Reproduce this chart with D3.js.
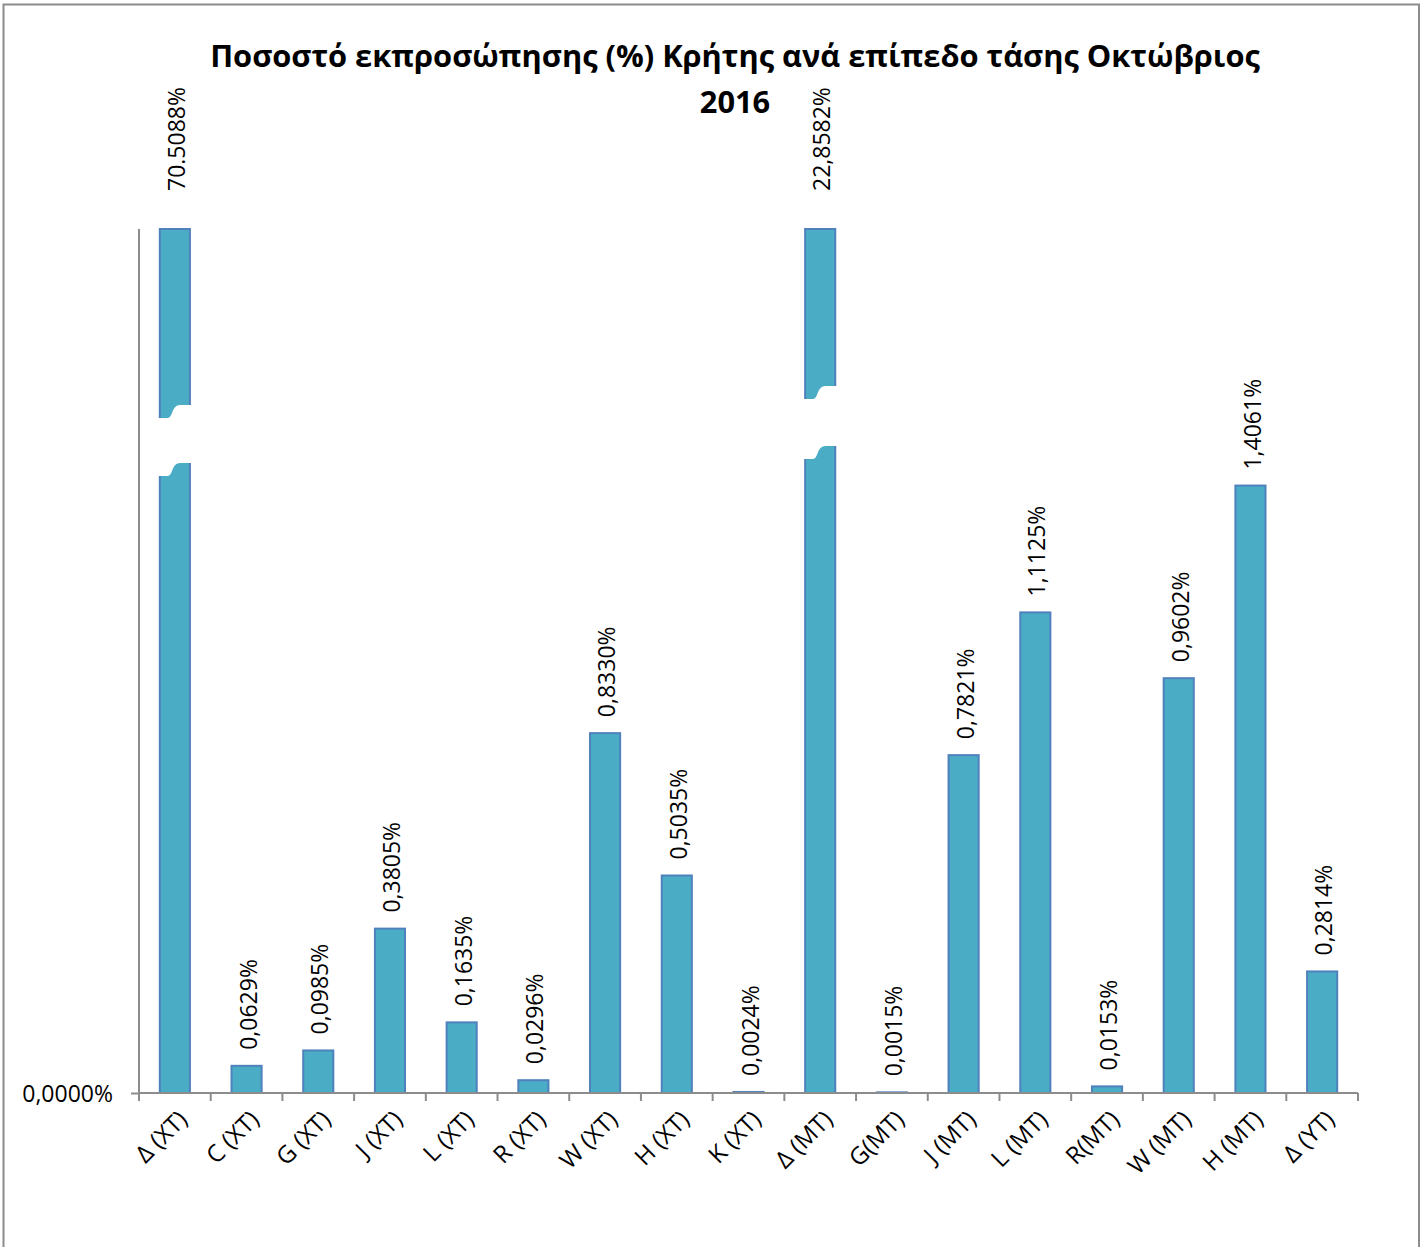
<!DOCTYPE html>
<html>
<head>
<meta charset="utf-8">
<script src="https://cdn.jsdelivr.net/npm/d3@7"></script>
<style>
  html, body { margin: 0; padding: 0; background: #fff; }
  svg text { font-family: "Open Sans", "Noto Sans", sans-serif; fill: #000; }
</style>
</head>
<body>
<svg id="chart" width="1427" height="1247"></svg>
<script>
// ---- data ----
const categories = ["Δ (XT)", "C (XT)", "G (XT)", "J (XT)", "L (XT)", "R (XT)", "W (XT)", "H (XT)", "K (XT)",
  "Δ (MT)", "G(MT)", "J (MT)", "L (MT)", "R(MT)", "W (MT)", "H (MT)", "Δ (YT)"];
const values = [70.5088, 0.0629, 0.0985, 0.3805, 0.1635, 0.0296, 0.8330, 0.5035, 0.0024,
  22.8582, 0.0015, 0.7821, 1.1125, 0.0153, 0.9602, 1.4061, 0.2814];
const valueLabels = ["70.5088%", "0,0629%", "0,0985%", "0,3805%", "0,1635%", "0,0296%", "0,8330%", "0,5035%", "0,0024%",
  "22,8582%", "0,0015%", "0,7821%", "1,1125%", "0,0153%", "0,9602%", "1,4061%", "0,2814%"];
const yTickValues = [0];
const yTickLabels = ["0,0000%"];
const yMax = 2.0;
const titleLines = ["Ποσοστό εκπροσώπησης (%) Κρήτης ανά επίπεδο τάσης Οκτώβριος", "2016"];

// ---- layout ----
const svg = d3.select("#chart");
const W = 1427, H = 1247;
const plot = { left: 139, right: 1358, top: 229, bottom: 1093 };

// outer frame
svg.append("rect").attr("x", 3.5).attr("y", 4.5).attr("width", 1415.5).attr("height", H + 10)
  .attr("fill", "#fff").attr("stroke", "#8c8c8c").attr("stroke-width", 2);

const x = d3.scaleBand().domain(categories).range([plot.left, plot.right]).paddingInner(0.58).paddingOuter(0.29);
const y = d3.scaleLinear().domain([0, yMax]).range([plot.bottom, plot.top]);

// title
const title = svg.append("g");
const t1 = title.append("text").attr("x", 735).attr("y", 67).attr("text-anchor", "middle")
  .style("font-weight", "bold").style("font-size", "30px").text(titleLines[0]);
const w1 = t1.node().getComputedTextLength();
const fs = 30 * 1050 / w1;
t1.style("font-size", fs + "px");
title.append("text").attr("x", 735).attr("y", 113).attr("text-anchor", "middle")
  .style("font-weight", "bold").style("font-size", fs + "px").text(titleLines[1]);

// bars
const clipped = v => Math.min(v, yMax);
svg.append("g").selectAll("rect").data(values).join("rect")
  .attr("x", (d, i) => x(categories[i]))
  .attr("width", x.bandwidth())
  .attr("y", d => y(clipped(d)))
  .attr("height", d => y(0) - y(clipped(d)))
  .attr("fill", "#4BACC6")
  .attr("stroke", "#4F81BD")
  .attr("stroke-width", 2);

// axis break marks on clipped bars (white S-shaped gaps)
const breaks = { 0: { topR: 405, gap: 58, drop: 13 }, 9: { topR: 386, gap: 60, drop: 13 } };
Object.keys(breaks).forEach(k => {
  const i = +k, b = breaks[k];
  const x0 = x(categories[i]) - 3, x1 = x(categories[i]) + x.bandwidth() + 3, w = x1 - x0;
  const yr = b.topR, yl = b.topR + b.drop;
  const d = `M${x0},${yl} L${x0 + w * 0.3},${yl} C${x0 + w * 0.45},${yl} ${x0 + w * 0.4},${yr} ${x0 + w * 0.65},${yr} L${x1},${yr}`
    + ` L${x1},${yr + b.gap} L${x0 + w * 0.65},${yr + b.gap} C${x0 + w * 0.4},${yr + b.gap} ${x0 + w * 0.45},${yl + b.gap} ${x0 + w * 0.3},${yl + b.gap} L${x0},${yl + b.gap} Z`;
  svg.append("path").attr("d", d).attr("fill", "#fff");
});

// axes
const axisColor = "#8c8c8c";
const yAxis = svg.append("g").attr("transform", `translate(${plot.left},0)`)
  .call(d3.axisLeft(y).tickValues(yTickValues).tickFormat((d, i) => yTickLabels[i]).tickSize(8).tickPadding(18));
yAxis.select(".domain").attr("d", `M0,${plot.top}V${plot.bottom}`);
yAxis.selectAll("path, line").attr("stroke", axisColor).attr("stroke-width", 2);
yAxis.selectAll("text").style("font-size", "23px").style("font-family", "'Open Sans', sans-serif").attr("fill", "#000").attr("dy", "0.35em");

const xAxis = svg.append("g").attr("transform", `translate(0,${plot.bottom})`)
  .call(d3.axisBottom(x).tickSize(0).tickFormat(""));
xAxis.select(".domain").attr("d", `M${plot.left},0H${plot.right}`).attr("stroke", axisColor).attr("stroke-width", 2);
// boundary ticks between categories
const tickXs = d3.range(categories.length + 1).map(i => plot.left + i * (plot.right - plot.left) / categories.length);
xAxis.selectAll(".btick").data(tickXs).join("line").attr("class", "btick")
  .attr("x1", d => d).attr("x2", d => d).attr("y1", 0).attr("y2", 8)
  .attr("stroke", axisColor).attr("stroke-width", 2);

// category labels rotated -45
svg.append("g").selectAll("text").data(categories).join("text")
  .attr("transform", d => `translate(${x(d) + x.bandwidth() / 2 + 8},${plot.bottom + 22}) rotate(-45)`)
  .attr("text-anchor", "end")
  .attr("dy", "0.35em")
  .style("font-size", "24px")
  .text(d => d);

// value labels rotated -90
svg.append("g").selectAll("text").data(values).join("text")
  .attr("transform", (d, i) => {
    const cx = x(categories[i]) + x.bandwidth() / 2 + 2;
    const top = d > yMax ? plot.top - 38 : y(d) - 16;
    return `translate(${cx},${top}) rotate(-90)`;
  })
  .attr("text-anchor", "start")
  .attr("dy", "0.35em")
  .style("font-size", "23px")
  .text((d, i) => valueLabels[i]);
</script>
</body>
</html>
